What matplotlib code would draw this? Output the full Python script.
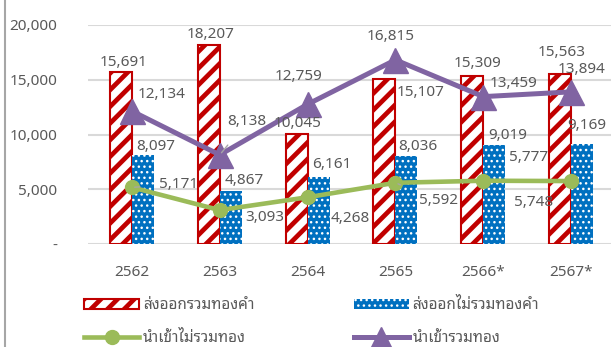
import numpy as np
import matplotlib
matplotlib.use('Agg')
import matplotlib.pyplot as plt
from matplotlib.lines import Line2D
from matplotlib.patches import Patch

plt.rcParams['font.family'] = ['Noto Sans', 'Noto Sans Thai Looped', 'DejaVu Sans']

years = ['2562', '2563', '2564', '2565', '2566*', '2567*']
export_gold = [15691, 18207, 10045, 15107, 15309, 15563]
export_no_gold = [8097, 4867, 6161, 8036, 9019, 9169]
import_no_gold = [5171, 3093, 4268, 5592, 5777, 5748]
import_gold = [12134, 8138, 12759, 16815, 13459, 13894]

names = ['ส่งออกรวมทองคำ', 'ส่งออกไม่รวมทองคำ', 'นำเข้าไม่รวมทอง', 'นำเข้ารวมทอง']

# label offsets in pixels (dx, dy) from each mark
off_export_gold = [(3, 10), (2, 10), (1, 11), (36, -14), (5, 13), (2, 21)]
off_export_no_gold = [(13, 9), (14, 10), (13, 12), (11, 10), (13, 10), (5, 18)]
off_import_gold = [(30, 17), (27, 33), (-9, 28), (-5, 23), (30, 13), (10, 22)]
off_import_no_gold = [(47, 3), (45, -7), (43, -21), (43, -18), (45, 23), (-38, -21)]
leader_gold = [False, True, False, False, False, False]
leader_no_gold = [True, False, False, True, False, False]

RED = '#C00000'
BLUE = '#0070C0'
GREEN = '#9BBB59'
PURPLE = '#8064A2'
TXT = '#595959'
STRIPE_LW = 3.4
DOT_LW = 1.0

fig = plt.figure(figsize=(6.11, 3.47), dpi=100)
ax = fig.add_axes([88 / 611, 103 / 347, 527 / 611, 219 / 347])

x = np.arange(len(years))
w = 0.25

# stripes and dots need different hatch widths, set while the patches are made
with plt.rc_context({'hatch.linewidth': STRIPE_LW}):
    ax.bar(x - w / 2, export_gold, w, facecolor='white', edgecolor=RED,
           linewidth=1.5, hatch='//', zorder=2)
with plt.rc_context({'hatch.linewidth': DOT_LW}):
    ax.bar(x + w / 2, export_no_gold, w, facecolor=BLUE, edgecolor='white',
           linewidth=0, hatch='...', zorder=2)

ax.plot(x, import_no_gold, color=GREEN, lw=3.3, marker='o', ms=10, zorder=3)
ax.plot(x, import_gold, color=PURPLE, lw=3.6, marker='^', ms=18, zorder=4)

lbl = dict(textcoords='offset pixels', ha='center', va='center',
           fontsize=11, color=TXT, zorder=6, annotation_clip=False)

for i in range(len(years)):
    ax.annotate(f'{export_gold[i]:,}', (x[i] - w / 2, export_gold[i]),
                xytext=off_export_gold[i], **lbl)
    ax.annotate(f'{export_no_gold[i]:,}', (x[i] + w / 2, export_no_gold[i]),
                xytext=off_export_no_gold[i], **lbl)
    arrow = dict(arrowstyle='-', color='#A6A6A6', lw=1, shrinkA=12, shrinkB=2)
    ax.annotate(f'{import_gold[i]:,}', (x[i], import_gold[i]),
                xytext=off_import_gold[i],
                arrowprops=arrow if leader_gold[i] else None, **lbl)
    ax.annotate(f'{import_no_gold[i]:,}', (x[i], import_no_gold[i]),
                xytext=off_import_no_gold[i],
                arrowprops=arrow if leader_no_gold[i] else None, **lbl)

ax.set_xlim(-0.5, len(years) - 0.5)
ax.set_ylim(0, 20000)
ax.set_xticks(x)
ax.set_xticklabels(years)
yt = [0, 5000, 10000, 15000, 20000]
ax.set_yticks(yt)
ax.set_yticklabels(['-' if v == 0 else f'{v:,}' for v in yt])
ax.tick_params(length=0, labelsize=11, labelcolor=TXT)
ax.tick_params(axis='y', pad=22)
ax.tick_params(axis='x', pad=15)
ax.grid(axis='y', color='#D9D9D9', lw=1.5, zorder=0)
ax.set_axisbelow(True)
for s in ax.spines.values():
    s.set_visible(False)

handles = [
    Patch(facecolor='white', edgecolor=RED, hatch='//', lw=1.5),
    Line2D([], [], color=GREEN, lw=3.3, marker='o', ms=10),
    Patch(facecolor=BLUE, edgecolor='white', hatch='...', lw=0),
    Line2D([], [], color=PURPLE, lw=3.6, marker='^', ms=15),
]
labels = [names[0], names[2], names[1], names[3]]
leg = ax.legend(handles, labels, ncol=2, loc='upper left',
                bbox_to_anchor=(-10 / 527, -0.22), frameon=False,
                fontsize=11, handlelength=3.6, handletextpad=0.25,
                columnspacing=6.5, labelspacing=1.15, borderaxespad=0)
for t in leg.get_texts():
    t.set_color(TXT)
# legend copies of the bar patches get the default hatch width
leg.legend_handles[0].set_hatch_linewidth(STRIPE_LW)
leg.legend_handles[2].set_hatch_linewidth(DOT_LW)

# chart border on the left
fig.add_artist(Line2D([5 / 611, 5 / 611], [0, 1], color='#A6A6A6', lw=1.5))

fig.savefig('out.png')
